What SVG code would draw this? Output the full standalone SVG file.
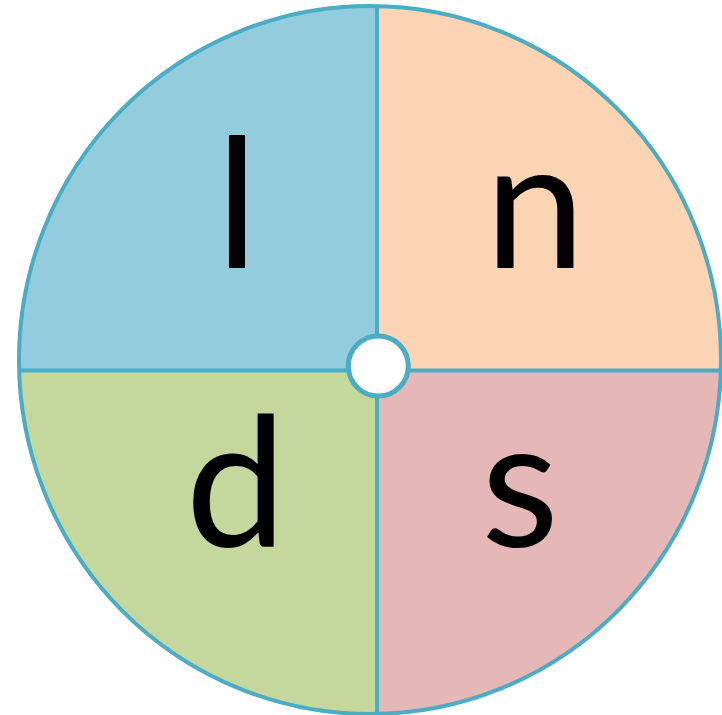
<svg xmlns="http://www.w3.org/2000/svg" width="722" height="715" viewBox="0 0 722 715">
<style>
.ln{stroke:#4BACC6;stroke-width:4;fill:none}
.lbl{font-family:Lato,"Noto Sans",sans-serif;font-size:180px;fill:#000;text-anchor:middle}
</style>
<defs>
<clipPath id="cp"><ellipse cx="370" cy="360" rx="351" ry="354"/></clipPath>
</defs>
<rect width="722" height="715" fill="#fff"/>
<g clip-path="url(#cp)">
<rect id="q-l" x="0" y="0" width="377" height="370" fill="#93CDDD"/>
<rect id="q-n" x="377" y="0" width="345" height="370" fill="#FBD4B4"/>
<rect id="q-d" x="0" y="370" width="377" height="345" fill="#C4D79C"/>
<rect id="q-s" x="377" y="370" width="345" height="345" fill="#E5B8B7"/>
</g>
<g id="connectors">
<ellipse class="ln" cx="370" cy="360" rx="351" ry="354"/>
<line class="ln" x1="377" y1="6" x2="377" y2="714"/>
<line class="ln" x1="19" y1="370.5" x2="721" y2="370.5"/>
</g>
<g id="hub"><circle cx="378.3" cy="366" r="30" fill="#fff" stroke="#4BACC6" stroke-width="5"/></g>
<g id="node-l"><text class="lbl" x="237" y="268">l</text></g>
<g id="node-n"><text class="lbl" x="535" y="268">n</text></g>
<g id="node-d"><text class="lbl" x="236" y="547">d</text></g>
<g id="node-s"><text class="lbl" x="520" y="547">s</text></g>
</svg>
